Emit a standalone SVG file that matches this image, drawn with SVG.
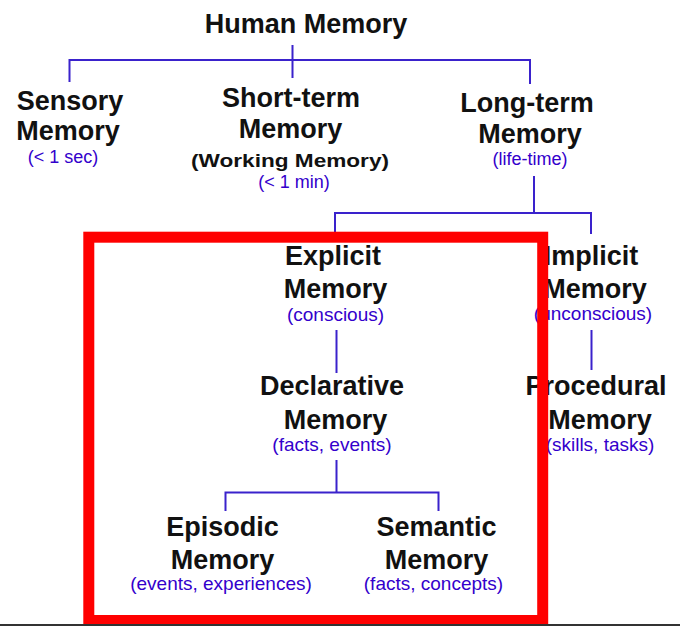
<svg xmlns="http://www.w3.org/2000/svg" width="680" height="626" viewBox="0 0 680 626">
<style>
.t{font-family:"Liberation Sans",Arial,sans-serif;font-weight:bold;font-size:27px;fill:#111;text-anchor:middle}
.s{font-family:"Liberation Sans",Arial,sans-serif;font-size:19px;fill:#3300cc;text-anchor:middle}
.s2{font-family:"Liberation Sans",Arial,sans-serif;font-size:18px;fill:#3300cc;text-anchor:middle}
.w{font-family:"Liberation Sans",Arial,sans-serif;font-weight:bold;font-size:19px;fill:#111;text-anchor:middle}
.c{fill:none;stroke:#3a22cc;stroke-width:2}
</style>
<rect width="680" height="626" fill="#fff"/>
<g id="connectors">
<path class="c" d="M292.5 45V78M69.5 82V60H530V84"/>
<path class="c" d="M534 176V213M335 234V213H591V234"/>
<path class="c" d="M336.5 330V373"/>
<path class="c" d="M591.5 330V370"/>
<path class="c" d="M336.5 460V492.5M225.5 511V492.5H438.5V511"/>
</g>
<g id="human"><text class="t" x="306" y="33">Human Memory</text></g>
<g id="sensory">
<text class="t" x="70" y="110">Sensory</text>
<text class="t" x="68" y="140">Memory</text>
<text class="s2" x="63" y="163">(&lt; 1 sec)</text>
</g>
<g id="shortterm">
<text class="t" x="291" y="107">Short-term</text>
<text class="t" x="290.5" y="138">Memory</text>
<text class="w" x="290" y="167" textLength="198" lengthAdjust="spacingAndGlyphs">(Working Memory)</text>
<text class="s2" x="294" y="188">(&lt; 1 min)</text>
</g>
<g id="longterm">
<text class="t" x="527" y="112">Long-term</text>
<text class="t" x="530" y="143">Memory</text>
<text class="s2" x="530" y="165">(life-time)</text>
</g>
<g id="explicit">
<text class="t" x="333" y="265">Explicit</text>
<text class="t" x="335.5" y="298">Memory</text>
<text class="s" x="335.5" y="321">(conscious)</text>
</g>
<g id="implicit">
<text class="t" x="591" y="265">Implicit</text>
<text class="t" x="595" y="298">Memory</text>
<text class="s" x="593" y="320">(unconscious)</text>
</g>
<g id="declarative">
<text class="t" x="332" y="395">Declarative</text>
<text class="t" x="335.5" y="429">Memory</text>
<text class="s" x="332" y="451">(facts, events)</text>
</g>
<g id="procedural">
<text class="t" x="596" y="395">Procedural</text>
<text class="t" x="600" y="429">Memory</text>
<text class="s" x="600" y="451">(skills, tasks)</text>
</g>
<g id="episodic">
<text class="t" x="222.5" y="536">Episodic</text>
<text class="t" x="222.5" y="569">Memory</text>
<text class="s" x="221" y="590">(events, experiences)</text>
</g>
<g id="semantic">
<text class="t" x="436.5" y="536">Semantic</text>
<text class="t" x="436.5" y="569">Memory</text>
<text class="s" x="433.5" y="590">(facts, concepts)</text>
</g>
<rect x="88.8" y="237.2" width="453.9" height="383.3" fill="none" stroke="#ff0000" stroke-width="11"/>
<rect x="0" y="624" width="680" height="2" fill="#333"/>
</svg>
